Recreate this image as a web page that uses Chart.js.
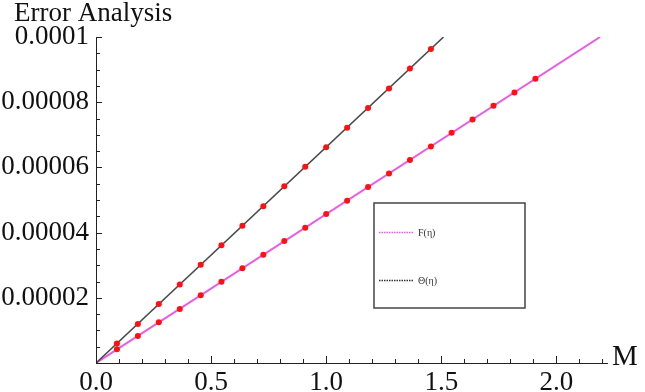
<!DOCTYPE html>
<html>
<head>
<meta charset="utf-8">
<script src="https://cdn.jsdelivr.net/npm/chart.js@4"></script>
<style>
  html, body { margin: 0; padding: 0; background: #fff; }
  #wrap { width: 645px; height: 392px; position: relative; }
</style>
</head>
<body>
<div id="wrap"><canvas id="myChart1"></canvas></div>
<script>
const chartTitle = 'Error Analysis';
const xAxisTitle = 'M';
const seriesNames = ['F(η)', 'Θ(η)'];

// red markers
const dotM = [0.091, 0.182, 0.273, 0.364, 0.455, 0.545, 0.636, 0.727, 0.818, 0.909, 1.0,
              1.091, 1.182, 1.273, 1.364, 1.455, 1.545, 1.636, 1.727, 1.818, 1.909];
const dotF = [4.2e-6, 8.3e-6, 12.5e-6, 16.6e-6, 20.8e-6, 24.9e-6, 29.1e-6, 33.2e-6, 37.4e-6, 41.5e-6, 45.7e-6,
              49.8e-6, 54.0e-6, 58.1e-6, 62.3e-6, 66.4e-6, 70.6e-6, 74.7e-6, 78.9e-6, 83.0e-6, 87.2e-6];
const dotTheta = [6.0e-6, 12.0e-6, 18.1e-6, 24.1e-6, 30.1e-6, 36.1e-6, 42.1e-6, 48.1e-6, 54.2e-6, 60.2e-6, 66.2e-6,
                  72.2e-6, 78.2e-6, 84.2e-6, 90.3e-6, 96.3e-6];

// the two curves (straight lines)
const lineFM = [0, 2.19];
const lineF = [0, 0.0001];
const lineThetaM = [0, 1.51];
const lineTheta = [0, 0.0001];

const xTicks = [0, 0.5, 1, 1.5, 2];
const xTickLabels = ['0.0', '0.5', '1.0', '1.5', '2.0'];
const yTicks = [0, 0.00002, 0.00004, 0.00006, 0.00008, 0.0001];
const yTickLabels = ['', '0.00002', '0.00004', '0.00006', '0.00008', '0.0001'];

const serif = "'Liberation Serif', 'Times New Roman', serif";

function pts(xs, ys) {
  return ys.map((y, i) => ({ x: xs[i], y: y }));
}

const decor = {
  id: 'decor',
  afterDraw(chart) {
    const ctx = chart.ctx;
    const xs = chart.scales.x, ys = chart.scales.y;
    const area = chart.chartArea;
    ctx.save();
    ctx.strokeStyle = '#222';
    ctx.lineWidth = 1;
    // inward ticks on the x axis
    for (let i = 0; i <= 22; i++) {
      const v = i / 10;
      const px = Math.round(xs.getPixelForValue(v)) + 0.5;
      const len = i % 5 === 0 ? 7 : 4;
      ctx.beginPath();
      ctx.moveTo(px, area.bottom);
      ctx.lineTo(px, area.bottom - len);
      ctx.stroke();
    }
    // inward ticks on the y axis
    for (let i = 0; i <= 20; i++) {
      const v = i * 0.000005;
      const py = Math.round(ys.getPixelForValue(v)) + 0.5;
      const len = i % 4 === 0 ? 6 : 4;
      ctx.beginPath();
      ctx.moveTo(area.left, py);
      ctx.lineTo(area.left + len, py);
      ctx.stroke();
    }

    // title and axis label
    ctx.fillStyle = '#111';
    ctx.font = '27px ' + serif;
    ctx.textAlign = 'left';
    ctx.textBaseline = 'alphabetic';
    ctx.fillText(chartTitle, 14, 21);
    ctx.font = '29px ' + serif;
    ctx.fillText(xAxisTitle, 612, 365);

    // legend box
    ctx.strokeStyle = '#444';
    ctx.lineWidth = 1.5;
    ctx.strokeRect(374, 203, 151, 105);
    const colors = ['#e85ce8', '#333'];
    const rows = [232, 280];
    ctx.font = '10px ' + serif;
    ctx.textBaseline = 'middle';
    rows.forEach((y, i) => {
      ctx.strokeStyle = colors[i];
      ctx.lineWidth = 1.5;
      ctx.setLineDash([1.5, 1]);
      ctx.beginPath();
      ctx.moveTo(379, y + 0.5);
      ctx.lineTo(414, y + 0.5);
      ctx.stroke();
      ctx.setLineDash([]);
      ctx.fillStyle = '#333';
      ctx.fillText(seriesNames[i], 418, y + 1);
    });
    ctx.restore();
  }
};

new Chart(document.getElementById('myChart1').getContext('2d'), {
  type: 'scatter',
  data: {
    datasets: [
      {
        label: 'F dots', data: pts(dotM, dotF), order: 0,
        pointRadius: 3, pointBackgroundColor: '#ff1010', pointBorderWidth: 0, showLine: false
      },
      {
        label: 'Theta dots', data: pts(dotM, dotTheta), order: 0,
        pointRadius: 3, pointBackgroundColor: '#ff1010', pointBorderWidth: 0, showLine: false
      },
      {
        label: seriesNames[0], data: pts(lineFM, lineF), order: 2,
        showLine: true, borderColor: '#e85ce8', borderWidth: 2, pointRadius: 0
      },
      {
        label: seriesNames[1], data: pts(lineThetaM, lineTheta), order: 1,
        showLine: true, borderColor: '#4a4a4a', borderWidth: 1.6, pointRadius: 0
      }
    ]
  },
  options: {
    responsive: true,
    maintainAspectRatio: false,
    animation: false,
    layout: { padding: { left: 0, right: 38, top: 37, bottom: 0 } },
    plugins: { legend: { display: false }, tooltip: { enabled: false } },
    scales: {
      x: {
        type: 'linear', min: 0, max: 2.22,
        afterBuildTicks: s => { s.ticks = xTicks.map(v => ({ value: v })); },
        afterFit: s => { s.height = 29; },
        grid: { display: true, drawOnChartArea: false, drawTicks: false },
        border: { display: true, color: '#222', width: 1 },
        ticks: {
          padding: 4, color: '#111', maxRotation: 0, autoSkip: false,
          font: { family: serif, size: 27 },
          callback: (v, i) => xTickLabels[i]
        }
      },
      y: {
        type: 'linear', min: 0, max: 0.0001,
        afterBuildTicks: s => { s.ticks = yTicks.map(v => ({ value: v })); },
        afterFit: s => { s.width = 96; },
        grid: { display: true, drawOnChartArea: false, drawTicks: false },
        border: { display: true, color: '#222', width: 1 },
        ticks: {
          padding: 7, color: '#111', autoSkip: false,
          font: { family: serif, size: 27 },
          callback: (v, i) => yTickLabels[i]
        }
      }
    }
  },
  plugins: [decor]
});
</script>
</body>
</html>
